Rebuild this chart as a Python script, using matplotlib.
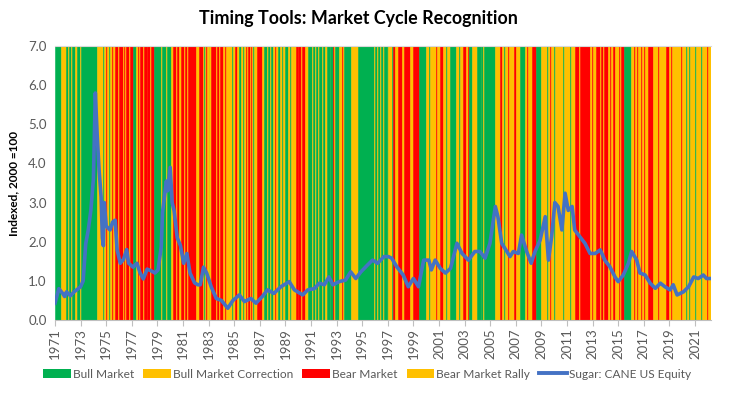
import matplotlib
matplotlib.use("Agg")
import matplotlib.pyplot as plt
from matplotlib.patches import Patch
from matplotlib.lines import Line2D

plt.rcParams['font.family'] = ['Lato', 'DejaVu Sans']

# ---- data ----
regime_names = ["Bull Market", "Bull Market Correction", "Bear Market", "Bear Market Rally"]
regime_colors = ["#00B050", "#FFC000", "#FF0000", "#FFC000"]

# regime codes: 0 bull, 1 bull correction, 2 bear, 3 bear rally
regime_start = [
    1971.00, 1971.50, 1971.85, 1972.00, 1972.08, 1972.27, 1972.35, 1972.60, 1972.68, 1972.95,
    1973.02, 1974.30, 1974.75, 1974.85, 1974.95, 1975.05, 1975.20, 1975.28, 1975.45, 1975.53,
    1975.65, 1975.95, 1976.02, 1976.30, 1976.40, 1976.50, 1976.57, 1976.80, 1976.87, 1977.10,
    1977.35, 1977.45, 1977.60, 1977.67, 1977.85, 1977.95, 1978.15, 1978.22, 1978.45, 1978.52,
    1978.75, 1979.30, 1979.37, 1979.70, 1979.77, 1980.10, 1980.25, 1980.45, 1980.52, 1980.70,
    1980.85, 1981.05, 1981.12, 1981.35, 1981.42, 1982.05, 1982.25, 1982.55, 1982.62, 1982.70,
    1982.80, 1982.88, 1983.00, 1983.07, 1983.20, 1983.55, 1983.62, 1983.85, 1983.92, 1984.15,
    1984.30, 1984.38, 1984.80, 1984.88, 1985.10, 1985.18, 1985.35, 1985.50, 1985.65, 1985.73,
    1985.90, 1985.98, 1986.10, 1986.25, 1986.32, 1986.40, 1986.50, 1986.58, 1986.75, 1987.20,
    1987.35, 1987.55, 1987.65, 1987.80, 1987.88, 1988.05, 1988.20, 1988.27, 1988.40, 1988.60,
    1988.75, 1988.83, 1989.00, 1989.20, 1989.35, 1989.43, 1989.50, 1989.85, 1989.95, 1990.02,
    1990.20, 1990.27, 1990.50, 1990.80, 1991.05, 1991.12, 1991.30, 1991.37, 1991.55, 1991.65,
    1991.85, 1991.92, 1992.10, 1992.25, 1992.45, 1992.52, 1992.70, 1992.78, 1992.90, 1993.20,
    1993.40, 1993.47, 1993.60, 1994.15, 1994.70, 1995.90, 1995.97, 1996.15, 1996.22, 1996.40,
    1996.47, 1996.65, 1996.72, 1996.90, 1996.97, 1997.05, 1997.35, 1997.42, 1997.55, 1997.80,
    1998.10, 1998.30, 1998.70, 1998.95, 1999.45, 2000.00, 2000.25, 2000.33, 2000.80, 2000.88,
    2001.05, 2001.30, 2001.55, 2001.62, 2001.85, 2002.35, 2002.55, 2002.62, 2002.90, 2003.10,
    2003.30, 2003.38, 2003.60, 2004.00, 2004.25, 2004.32, 2004.45, 2004.52, 2005.40, 2005.75,
    2005.90, 2006.10, 2006.18, 2006.40, 2006.48, 2006.85, 2007.05, 2007.30, 2007.70, 2007.90,
    2007.98, 2008.30, 2008.60, 2009.00, 2009.40, 2009.48, 2009.65, 2009.73, 2010.00, 2010.08,
    2010.70, 2010.78, 2011.20, 2011.28, 2011.60, 2011.95, 2012.05, 2012.80, 2012.95, 2013.03,
    2013.30, 2013.55, 2013.62, 2013.80, 2013.87, 2014.20, 2014.35, 2014.43, 2014.60, 2014.75,
    2015.05, 2015.12, 2015.25, 2015.45, 2016.00, 2016.25, 2016.32, 2016.50, 2016.58, 2016.80,
    2016.88, 2017.05, 2017.12, 2017.30, 2017.70, 2018.10, 2018.18, 2018.70, 2018.95, 2019.15,
    2019.22, 2019.90, 2019.97, 2020.30, 2020.38, 2020.55, 2020.63, 2021.00, 2021.08, 2021.45,
    2021.53, 2021.90, 2021.98,
]
regime_code = [
    0, 1, 0, 1, 0, 1, 0, 1, 0, 1,
    0, 1, 0, 1, 2, 3, 0, 1, 2, 3,
    2, 3, 2, 3, 2, 3, 2, 3, 2, 0,
    3, 2, 3, 2, 3, 2, 3, 2, 3, 2,
    0, 1, 0, 1, 0, 1, 2, 3, 2, 3,
    2, 3, 2, 3, 2, 3, 2, 3, 0, 3,
    2, 3, 0, 3, 2, 3, 2, 3, 2, 3,
    2, 3, 0, 3, 2, 3, 0, 3, 0, 3,
    2, 3, 2, 3, 2, 3, 0, 3, 2, 3,
    0, 1, 0, 1, 0, 1, 2, 1, 0, 1,
    0, 1, 0, 1, 0, 1, 1, 2, 3, 2,
    3, 2, 3, 0, 1, 0, 1, 0, 1, 0,
    1, 0, 1, 0, 1, 0, 2, 1, 0, 1,
    2, 1, 0, 1, 0, 1, 0, 1, 0, 1,
    0, 1, 0, 1, 0, 1, 0, 2, 3, 2,
    3, 2, 3, 2, 0, 1, 0, 1, 2, 3,
    2, 3, 0, 1, 0, 1, 0, 1, 2, 3,
    2, 0, 1, 0, 1, 0, 1, 0, 1, 2,
    3, 0, 3, 2, 3, 2, 3, 0, 1, 2,
    1, 2, 0, 1, 0, 1, 2, 1, 0, 1,
    0, 1, 0, 1, 2, 3, 2, 3, 2, 3,
    2, 3, 2, 3, 2, 3, 2, 3, 2, 3,
    2, 3, 2, 0, 1, 2, 1, 2, 1, 2,
    3, 2, 3, 2, 3, 2, 3, 2, 3, 2,
    3, 2, 3, 0, 3, 0, 3, 0, 3, 0,
    3, 2, 3,
]
regime_end = 2022.25

# Sugar: CANE US Equity, indexed (2000 = 1.0)
sugar_year = [
    1971.0, 1971.3, 1971.6, 1971.75, 1971.9, 1972.2, 1972.5, 1973.0, 1973.2, 1973.4,
    1973.6, 1973.8, 1974.0, 1974.15, 1974.3, 1974.45, 1974.6, 1974.7, 1974.78, 1974.85,
    1975.0, 1975.3, 1975.5, 1975.7, 1975.85, 1976.1, 1976.35, 1976.6, 1976.75, 1977.1,
    1977.4, 1977.65, 1977.9, 1978.2, 1978.55, 1978.8, 1979.05, 1979.3, 1979.4, 1979.7,
    1979.8, 1980.0, 1980.15, 1980.3, 1980.55, 1980.8, 1981.05, 1981.3, 1981.55, 1981.9,
    1982.15, 1982.35, 1982.6, 1982.85, 1983.2, 1983.6, 1984.0, 1984.5, 1984.9, 1985.4,
    1985.8, 1986.3, 1986.7, 1987.2, 1987.6, 1988.1, 1988.65, 1989.3, 1989.7, 1990.35,
    1990.75, 1991.25, 1991.65, 1992.05, 1992.4, 1992.7, 1993.2, 1993.7, 1994.1, 1994.5,
    1994.9, 1995.4, 1995.8, 1996.2, 1996.7, 1997.04, 1997.3, 1997.7, 1998.2, 1998.6,
    1999.0, 1999.4, 1999.8, 2000.2, 2000.4, 2000.7, 2001.1, 2001.5, 2001.9, 2002.4,
    2002.8, 2003.3, 2003.8, 2004.2, 2004.6, 2004.98, 2005.4, 2005.6, 2005.9, 2006.15,
    2006.55, 2006.8, 2007.2, 2007.45, 2007.85, 2008.2, 2008.5, 2008.9, 2009.3, 2009.55,
    2009.8, 2010.05, 2010.3, 2010.6, 2010.85, 2011.1, 2011.4, 2011.6, 2012.0, 2012.4,
    2012.8, 2013.2, 2013.6, 2013.95, 2014.35, 2014.75, 2015.0, 2015.4, 2015.8, 2016.05,
    2016.45, 2016.7, 2017.1, 2017.5, 2017.9, 2018.3, 2018.65, 2019.05, 2019.3, 2019.6,
    2020.1, 2020.5, 2020.9, 2021.25, 2021.65, 2021.9, 2022.2,
]
sugar_value = [
    0.43, 0.80, 0.68, 0.60, 0.72, 0.62, 0.72, 0.85, 1.00, 1.95,
    2.30, 2.80, 3.60, 5.80, 4.70, 3.80, 3.15, 2.10, 1.90, 3.00,
    2.40, 2.30, 2.50, 2.55, 1.80, 1.45, 1.55, 1.80, 1.45, 1.35,
    1.45, 1.20, 1.05, 1.30, 1.25, 1.20, 1.28, 1.87, 2.75, 3.55,
    3.30, 3.90, 3.00, 2.80, 2.10, 1.90, 1.45, 1.70, 1.20, 0.95,
    0.90, 0.90, 1.35, 1.20, 0.85, 0.55, 0.50, 0.30, 0.50, 0.64,
    0.47, 0.55, 0.43, 0.60, 0.77, 0.68, 0.85, 0.98, 0.77, 0.64,
    0.77, 0.80, 0.94, 0.90, 1.10, 0.90, 0.98, 1.02, 1.23, 1.06,
    1.23, 1.40, 1.53, 1.45, 1.62, 1.62, 1.58, 1.36, 1.15, 0.85,
    1.06, 0.85, 1.53, 1.53, 1.28, 1.53, 1.32, 1.20, 1.32, 1.96,
    1.70, 1.53, 1.75, 1.75, 1.58, 1.96, 2.90, 2.64, 1.96, 1.83,
    1.62, 1.75, 1.70, 2.17, 1.75, 1.45, 1.75, 2.04, 2.64, 1.53,
    2.13, 3.00, 2.90, 2.30, 3.24, 2.80, 2.90, 2.30, 2.13, 1.96,
    1.70, 1.70, 1.79, 1.53, 1.36, 1.10, 0.98, 1.15, 1.45, 1.75,
    1.53, 1.20, 1.15, 0.94, 0.81, 0.94, 0.85, 0.77, 0.90, 0.64,
    0.72, 0.85, 1.10, 1.06, 1.15, 1.06, 1.06,
]

x_tick_years = list(range(1971, 2022, 2))
y_ticks = [0, 1, 2, 3, 4, 5, 6, 7]

# ---- plot ----
fig = plt.figure(figsize=(7.42, 3.97), dpi=100)
ax = fig.add_axes([55 / 742, 1 - 320 / 397, (711 - 55) / 742, (320 - 46) / 397])

ends = regime_start[1:] + [regime_end]
widths = [e - s for s, e in zip(regime_start, ends)]
cols = [regime_colors[c] for c in regime_code]
ax.bar(regime_start, 7.0, width=widths, align='edge', color=cols,
       edgecolor=cols, linewidth=0.4, zorder=1)

ax.plot(sugar_year, sugar_value, color="#4472C4", lw=2.6, zorder=3,
        solid_joinstyle='round')

ax.set_xlim(1971, regime_end)
ax.set_ylim(0, 7)
ax.set_yticks(y_ticks)
ax.set_yticklabels([f"{v:.1f}" for v in y_ticks], color="#595959", fontsize=9.5)
ax.set_xticks(x_tick_years)
ax.set_xticklabels([str(y) for y in x_tick_years], rotation=90, color="#595959",
                   fontsize=9.5)
ax.tick_params(axis='y', length=0, pad=6)
ax.tick_params(axis='x', length=4, color="#BFBFBF", pad=2)
for s in ['left', 'right']:
    ax.spines[s].set_visible(False)
ax.spines['top'].set_color("#D9D9D9")
ax.spines['bottom'].set_color("#BFBFBF")

ax.set_ylabel("Indexed, 2000 =100", fontsize=8.5, fontweight='bold', labelpad=6)

fig.suptitle("Timing Tools: Market Cycle Recognition", fontsize=12.9,
             fontweight='bold', x=358 / 742, y=0.975)

handles = [Patch(facecolor=regime_colors[i], edgecolor='none') for i in range(4)]
handles.append(Line2D([0], [0], color="#4472C4", lw=2.8))
leg = fig.legend(handles, regime_names + ["Sugar: CANE US Equity"],
                 loc='center left', bbox_to_anchor=(36 / 742, 1 - 374 / 397), ncol=5,
                 frameon=False, fontsize=8.6, handlelength=2.3, handleheight=0.7,
                 handletextpad=0.2, columnspacing=0.75, borderpad=0.1)
for t in leg.get_texts():
    t.set_color("#595959")

fig.savefig("out.png", dpi=100)
